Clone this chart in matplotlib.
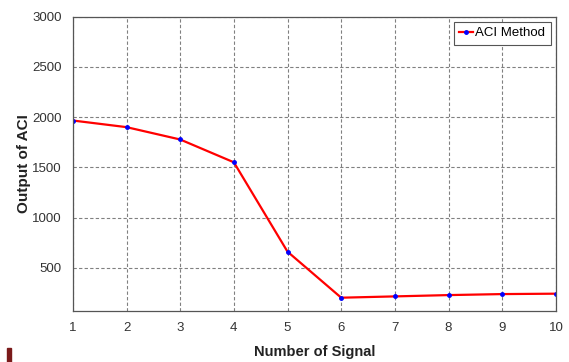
import matplotlib
matplotlib.use('Agg')
import matplotlib.pyplot as plt
from matplotlib.patches import Rectangle

plt.rcParams['font.family'] = ['Liberation Sans', 'DejaVu Sans']

signals = [1, 2, 3, 4, 5, 6, 7, 8, 9, 10]
aci_output = [1966, 1900, 1777, 1550, 660, 202, 215, 228, 238, 242]
yticks = [500, 1000, 1500, 2000, 2500, 3000]

fig = plt.figure(figsize=(5.69, 3.62), dpi=100)
ax = fig.add_axes([0.128, 0.141, 0.849, 0.813])

ax.plot(signals, aci_output, '-', color='red', lw=1.6, marker='.', ms=5,
        mfc='blue', mec='blue', label='ACI Method')

ax.set_xlim(1, 10)
ax.set_ylim(70, 3000)
ax.set_xticks(signals)
ax.set_yticks(yticks)
ax.grid(True, ls='--', color='#808080', lw=0.8, dashes=(3, 2))
ax.tick_params(labelsize=9.5, length=0, pad=8, colors='#333333')
for s in ax.spines.values():
    s.set_color('#555555')
    s.set_linewidth(0.9)

ax.set_xlabel('Number of Signal', fontsize=10.5, fontweight='bold', color='#222222', labelpad=8)
ax.set_ylabel('Output of ACI', fontsize=11, fontweight='bold', color='#222222', labelpad=1)

leg = ax.legend(loc='upper right', fontsize=9.5, handlelength=1.1, handletextpad=0.15,
                borderpad=0.4, fancybox=False, framealpha=1, borderaxespad=0.4)
leg.get_frame().set_edgecolor('#555555')
leg.get_frame().set_linewidth(0.8)

fig.patches.append(Rectangle((0.013, 0.0), 0.006, 0.038, transform=fig.transFigure,
                             color='#7a1a1a', figure=fig))

plt.savefig('out.png', dpi=100)
